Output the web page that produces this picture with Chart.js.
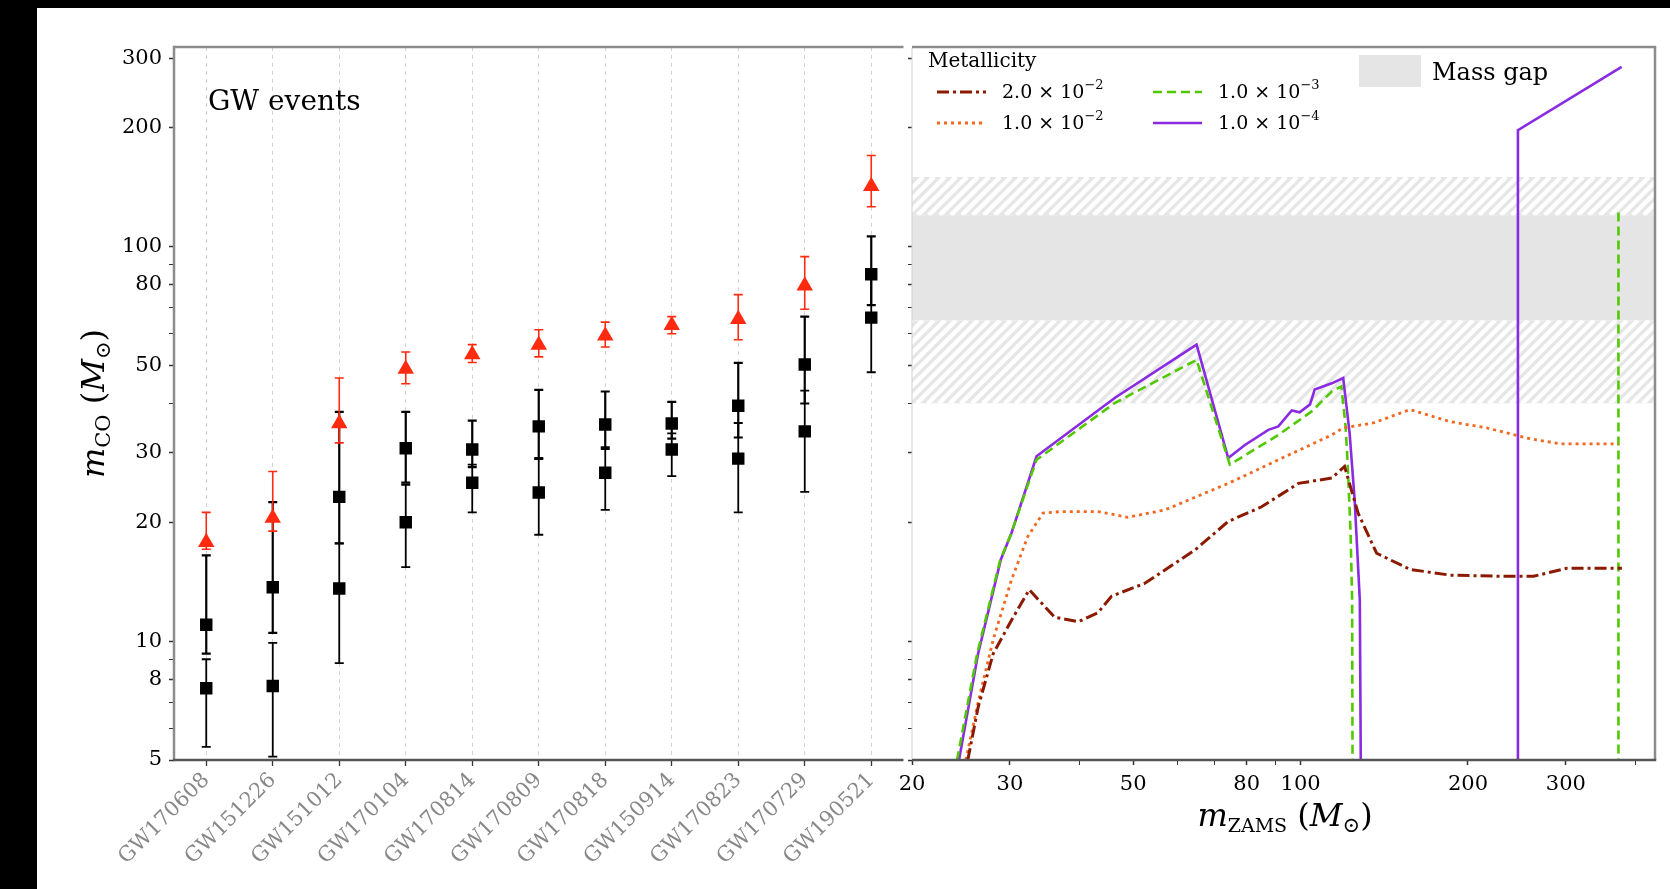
<!DOCTYPE html>
<html>
<head>
<meta charset="utf-8">
<script src="https://cdn.jsdelivr.net/npm/chart.js@4.4.1/dist/chart.umd.min.js"></script>
<style>
html, body { margin: 0; padding: 0; background: #fff; }
#fig { position: relative; width: 1670px; height: 889px; background: #fff; overflow: hidden; }
#left { position: absolute; left: 0; top: 0; width: 913px; height: 889px; }
#right { position: absolute; left: 880px; top: 0; width: 790px; height: 889px; }
.bar { position: absolute; background: #000; }
</style>
</head>
<body>
<div id="fig">
  <canvas id="left" width="913" height="889"></canvas>
  <canvas id="right" width="790" height="889"></canvas>
  <div class="bar" style="left:0;top:0;width:37px;height:889px"></div>
  <div class="bar" style="left:0;top:0;width:1670px;height:8px"></div>
</div>
<script>
// ---- GW events (left panel) ----
const events = ['GW170608', 'GW151226', 'GW151012', 'GW170104', 'GW170814', 'GW170809',
                'GW170818', 'GW150914', 'GW170823', 'GW170729', 'GW190521']
const m1   = [11.0, 13.7, 23.2, 30.8, 30.6, 35.0, 35.4, 35.6, 39.5, 50.2, 85]
const m1Up = [5.5, 8.8, 14.9, 7.3, 5.6, 8.3, 7.5, 4.8, 11.2, 16.2, 21]
const m1Lo = [1.7, 3.2, 5.5, 5.6, 3.0, 5.9, 4.7, 3.0, 6.7, 10.2, 14]
const m2   = [7.6, 7.7, 13.6, 20.0, 25.2, 23.8, 26.7, 30.6, 29.0, 34.0, 66]
const m2Up = [1.4, 2.2, 4.1, 4.9, 2.8, 5.1, 4.3, 3.0, 6.7, 9.1, 17]
const m2Lo = [2.2, 2.6, 4.8, 4.6, 4.0, 5.2, 5.2, 4.4, 7.8, 10.1, 18]
const mf   = [17.8, 20.5, 35.6, 48.9, 53.2, 56.3, 59.4, 63.1, 65.4, 79.5, 142]
const mfUp = [3.4, 6.4, 10.8, 5.1, 3.2, 5.2, 4.9, 3.3, 10.1, 14.7, 28]
const mfLo = [0.7, 1.5, 3.8, 4.0, 2.4, 3.8, 3.8, 3.0, 7.4, 10.2, 16]

// ---- axes ----
const yTicks  = [5, 6, 7, 8, 9, 10, 20, 30, 40, 50, 60, 70, 80, 90, 100, 200, 300]
const yLabels = [5, 8, 10, 20, 30, 50, 80, 100, 200, 300]
const xTicks  = [20, 30, 40, 50, 60, 70, 80, 90, 100, 200, 300, 400]
const xLabels = [20, 30, 50, 80, 100, 200, 300]

// ---- mass gap (M_sun) ----
const gapSolid = [65, 120]
const gapHatch = [[40, 65], [120, 150]]

// ---- m_CO vs m_ZAMS per metallicity ----
const zams_2e2 = [25.2, 26.3, 28.0, 30.2, 32.5, 36.1, 39.8, 43.2, 45.7, 52.4, 64.5, 74.1, 85.1, 99.1, 113.8, 120.0, 126.9, 137.0, 157.3, 185.6, 228.4, 262.4, 301.3, 378.4]
const mco_2e2  = [5.0, 6.8, 9.3, 11.3, 13.5, 11.5, 11.2, 11.8, 13.0, 14.0, 17.0, 20.1, 21.9, 25.1, 25.9, 27.7, 21.1, 16.7, 15.2, 14.7, 14.6, 14.6, 15.3, 15.3]
const zams_1e2 = [25.0, 26.3, 28.0, 30.2, 32.3, 34.4, 37.1, 43.2, 48.9, 57.0, 74.1, 91.2, 113.8, 119.3, 135.0, 157.3, 185.6, 216.2, 255.2, 293.0, 373.0]
const mco_1e2  = [5.0, 7.0, 10.1, 14.3, 18.4, 21.1, 21.3, 21.3, 20.6, 21.5, 25.1, 28.8, 33.3, 34.7, 35.7, 38.6, 36.0, 34.7, 32.7, 31.6, 31.6]
const zams_1e3 = [24.1, 26.2, 28.8, 30.1, 33.5, 46.3, 65.0, 74.6, 91.2, 104.7, 113.8, 118.4, 120.5, 121.6, 123.0, 123.8, 124.0, 124.1, 373.0, 373.0]
const mco_1e3  = [5.0, 9.3, 16.0, 18.6, 28.8, 40.1, 51.6, 28.0, 33.3, 38.2, 42.9, 44.2, 35.0, 27.7, 18.8, 12.7, 5.0, 4.0, 4.0, 125.0]
const zams_1e4 = [24.3, 26.3, 28.9, 30.2, 33.5, 46.3, 65.0, 74.1, 79.4, 87.5, 91.2, 96.4, 99.6, 104.0, 106.0, 113.8, 119.3, 122.5, 125.1, 127.8, 128.3, 128.5, 246.0, 246.0, 378.0]
const mco_1e4  = [5.0, 9.3, 16.1, 18.8, 29.4, 41.3, 56.4, 29.1, 31.4, 34.3, 35.0, 38.4, 38.0, 39.8, 43.4, 45.0, 46.4, 33.7, 22.8, 12.7, 5.0, 4.0, 4.0, 197.0, 285.0]

const zMant = ['2.0', '1.0', '1.0', '1.0']
const zExp  = ['\u22122', '\u22122', '\u22123', '\u22124']

Chart.defaults.font.family = '"DejaVu Serif", serif'
Chart.defaults.color = '#000'

const SERIF = '"DejaVu Serif", serif'

function pairs(xs, ys) {
    return xs.map((x, i) => ({x: x, y: ys[i]}))
}

function drawRich(ctx, parts, x, y, align) {
    let w = 0
    parts.forEach(p => { ctx.font = p.font; p.w = ctx.measureText(p.t).width; w += p.w })
    let cx = align === 'center' ? x - w / 2 : x
    parts.forEach(p => {
        ctx.font = p.font
        ctx.fillText(p.t, cx, y + (p.dy || 0))
        cx += p.w
    })
}

function line(ctx, x1, y1, x2, y2, color, width) {
    ctx.save()
    ctx.strokeStyle = color
    ctx.lineWidth = width
    ctx.beginPath()
    ctx.moveTo(x1, y1)
    ctx.lineTo(x2, y2)
    ctx.stroke()
    ctx.restore()
}

const errorBars = {
    id: 'errorBars',
    beforeDatasetsDraw(chart) {
        const {ctx} = chart
        const y = chart.scales.y
        chart.data.datasets.forEach((ds, i) => {
            const meta = chart.getDatasetMeta(i)
            ctx.save()
            ctx.strokeStyle = ds.errColor
            ctx.lineWidth = ds.errWidth
            meta.data.forEach((pt, j) => {
                const v = ds.data[j].y
                const top = y.getPixelForValue(v + ds.errUp[j])
                const bot = y.getPixelForValue(v - ds.errLo[j])
                const cap = 4.5
                ctx.beginPath()
                ctx.moveTo(pt.x, top); ctx.lineTo(pt.x, bot)
                ctx.moveTo(pt.x - cap, top); ctx.lineTo(pt.x + cap, top)
                ctx.moveTo(pt.x - cap, bot); ctx.lineTo(pt.x + cap, bot)
                ctx.stroke()
            })
            ctx.restore()
        })
    }
}

const leftDecor = {
    id: 'leftDecor',
    afterDraw(chart) {
        const {ctx, chartArea: a} = chart
        line(ctx, a.left, a.top, a.right, a.top, '#8c8c8c', 2.5)
        line(ctx, a.left, a.top - 1.2, a.left, a.bottom, '#8c8c8c', 2.5)
        line(ctx, a.left - 1, a.bottom, a.right, a.bottom, '#555', 2.5)
        ctx.save()
        ctx.fillStyle = '#000'
        ctx.textBaseline = 'alphabetic'
        ctx.font = '28px ' + SERIF
        ctx.fillText('GW events', a.left + 34, a.top + 63)
        ctx.translate(104, (a.top + a.bottom) / 2 + 0)
        ctx.rotate(-Math.PI / 2)
        drawRich(ctx, [
            {t: 'm', font: 'italic 32px ' + SERIF},
            {t: 'CO', font: '21px ' + SERIF, dy: 6},
            {t: ' (', font: '32px ' + SERIF},
            {t: 'M', font: 'italic 32px ' + SERIF},
            {t: '\u2299', font: '21px ' + SERIF, dy: 6},
            {t: ')', font: '32px ' + SERIF}
        ], 0, 0, 'center')
        ctx.restore()
    }
}

const rightDecor = {
    id: 'rightDecor',
    beforeDatasetsDraw(chart) {
        const {ctx, chartArea: a} = chart
        const y = chart.scales.y
        ctx.save()
        ctx.beginPath()
        ctx.rect(a.left, a.top, a.right - a.left, a.bottom - a.top)
        ctx.clip()
        const s1 = y.getPixelForValue(gapSolid[1]), s0 = y.getPixelForValue(gapSolid[0])
        ctx.fillStyle = '#e5e5e5'
        ctx.fillRect(a.left, s1, a.right - a.left, s0 - s1)
        gapHatch.forEach(([lo, hi]) => {
            const t = y.getPixelForValue(hi), b = y.getPixelForValue(lo)
            const h = b - t
            ctx.save()
            ctx.beginPath()
            ctx.rect(a.left, t, a.right - a.left, h)
            ctx.clip()
            ctx.fillStyle = '#e6e6e6'
            ctx.fillRect(a.left, t, a.right - a.left, h)
            ctx.strokeStyle = '#fff'
            ctx.lineWidth = 4.5
            ctx.beginPath()
            for (let x = a.left - h; x < a.right + h; x += 11) {
                ctx.moveTo(x, b)
                ctx.lineTo(x + h, t)
            }
            ctx.stroke()
            ctx.restore()
        })
        ctx.restore()
    },
    afterDraw(chart) {
        const {ctx, chartArea: a} = chart
        line(ctx, a.left, a.top + 1, a.left, a.bottom, '#cfcfcf', 1)
        line(ctx, a.left, a.top, a.right + 1.2, a.top, '#8c8c8c', 2.5)
        line(ctx, a.right, a.top, a.right, a.bottom, '#8c8c8c', 2.5)
        line(ctx, a.left, a.bottom, a.right + 1.2, a.bottom, '#555', 2.5)

        ctx.save()
        ctx.fillStyle = '#000'
        ctx.textBaseline = 'alphabetic'
        // metallicity legend
        ctx.font = '20px ' + SERIF
        ctx.fillText('Metallicity', a.left + 16, a.top + 20)
        const rows = [a.top + 45, a.top + 76]
        const cols = [a.left + 25, a.left + 241]
        chart.data.datasets.forEach((ds, i) => {
            const col = Math.floor(i / 2), row = i % 2
            const lx = cols[col], ly = rows[row]
            ctx.save()
            ctx.strokeStyle = ds.borderColor
            ctx.lineWidth = ds.borderWidth
            ctx.setLineDash(ds.borderDash || [])
            ctx.beginPath()
            ctx.moveTo(lx, ly)
            ctx.lineTo(lx + 49, ly)
            ctx.stroke()
            ctx.restore()
            drawRich(ctx, [
                {t: zMant[i] + ' \u00d7 10', font: '19px ' + SERIF},
                {t: zExp[i], font: '13px ' + SERIF, dy: -9}
            ], lx + 65, ly + 6, 'left')
        })
        // mass gap legend
        ctx.fillStyle = '#e5e5e5'
        ctx.fillRect(a.left + 447, a.top + 8, 62, 32)
        ctx.fillStyle = '#000'
        ctx.font = '24px ' + SERIF
        ctx.fillText('Mass gap', a.left + 520, a.top + 33)
        // x title
        drawRich(ctx, [
            {t: 'm', font: 'italic 32px ' + SERIF},
            {t: 'ZAMS', font: '19px ' + SERIF, dy: 6},
            {t: ' (', font: '32px ' + SERIF},
            {t: 'M', font: 'italic 32px ' + SERIF},
            {t: '\u2299', font: '21px ' + SERIF, dy: 6},
            {t: ')', font: '32px ' + SERIF}
        ], 1285 - 880, 826, 'center')
        ctx.restore()
    }
}

function logY(width, showLabels) {
    return {
        type: 'logarithmic',
        min: 5,
        max: 320,
        afterBuildTicks: s => { s.ticks = yTicks.map(v => ({value: v})) },
        afterFit: s => { s.width = width },
        ticks: {
            display: showLabels,
            autoSkip: false,
            padding: 7,
            font: {size: 21},
            color: '#000',
            callback: v => yLabels.includes(v) ? String(v) : ''
        },
        grid: {
            drawOnChartArea: false,
            tickLength: showLabels ? 5 : 4,
            tickColor: '#333',
            tickWidth: c => yLabels.includes(c.tick && c.tick.value) ? 1.5 : 1
        },
        border: {display: false}
    }
}

new Chart(document.getElementById('left'), {
    type: 'scatter',
    plugins: [errorBars, leftDecor],
    data: {
        datasets: [
            {
                label: 'm1',
                data: pairs(events.map((e, i) => i), m1),
                pointStyle: 'rect', pointRadius: 8.8,
                backgroundColor: '#000', borderColor: '#000', borderWidth: 0,
                errUp: m1Up, errLo: m1Lo, errColor: '#000', errWidth: 2.2
            },
            {
                label: 'm2',
                data: pairs(events.map((e, i) => i), m2),
                pointStyle: 'rect', pointRadius: 8.8,
                backgroundColor: '#000', borderColor: '#000', borderWidth: 0,
                errUp: m2Up, errLo: m2Lo, errColor: '#000', errWidth: 1.8
            },
            {
                label: 'mf',
                data: pairs(events.map((e, i) => i), mf),
                pointStyle: 'triangle', pointRadius: 9.5,
                backgroundColor: '#ff2a10', borderColor: '#ff2a10', borderWidth: 0,
                errUp: mfUp, errLo: mfLo, errColor: '#ff2a10', errWidth: 1.6
            }
        ]
    },
    options: {
        responsive: false,
        animation: false,
        devicePixelRatio: 1,
        layout: {padding: {top: 47, right: 1, bottom: 0, left: 0}},
        plugins: {legend: {display: false}, tooltip: {enabled: false}},
        scales: {
            x: {
                type: 'linear',
                min: -0.485,
                max: 10.485,
                afterBuildTicks: s => { s.ticks = events.map((e, i) => ({value: i})) },
                afterFit: s => { s.height = 129 },
                ticks: {
                    autoSkip: false, minRotation: 45, maxRotation: 45, padding: 2,
                    font: {size: 21}, color: '#888',
                    callback: v => events[v]
                },
                grid: {color: '#d2d2d2', lineWidth: 1, tickLength: 6, tickColor: '#333', tickWidth: 1.3},
                border: {display: false, dash: [4, 4]}
            },
            y: logY(174, true)
        }
    }
})

new Chart(document.getElementById('right'), {
    type: 'line',
    plugins: [rightDecor],
    data: {
        datasets: [
            {label: '2e-2', data: pairs(zams_2e2, mco_2e2), borderColor: '#8b1a00', borderWidth: 3, borderDash: [12, 4, 3, 4]},
            {label: '1e-2', data: pairs(zams_1e2, mco_1e2), borderColor: '#f4671f', borderWidth: 2.8, borderDash: [3, 4]},
            {label: '1e-3', data: pairs(zams_1e3, mco_1e3), borderColor: '#52c800', borderWidth: 2.6, borderDash: [9, 5]},
            {label: '1e-4', data: pairs(zams_1e4, mco_1e4), borderColor: '#8a2be2', borderWidth: 2.6}
        ]
    },
    options: {
        responsive: false,
        animation: false,
        devicePixelRatio: 1,
        layout: {padding: {top: 47, right: 15, bottom: 0, left: 0}},
        elements: {point: {radius: 0}, line: {tension: 0, fill: false}},
        plugins: {legend: {display: false}, tooltip: {enabled: false}},
        scales: {
            x: {
                type: 'logarithmic',
                min: 20,
                max: 434,
                afterBuildTicks: s => { s.ticks = xTicks.map(v => ({value: v})) },
                afterFit: s => { s.height = 129 },
                ticks: {
                    autoSkip: false, minRotation: 0, maxRotation: 0, padding: 7,
                    font: {size: 21}, color: '#000',
                    callback: v => xLabels.includes(v) ? String(v) : ''
                },
                grid: {
                    drawOnChartArea: false, tickLength: 5, tickColor: '#333',
                    tickWidth: c => xLabels.includes(c.tick && c.tick.value) ? 1.5 : 1
                },
                border: {display: false}
            },
            y: logY(32, false)
        }
    }
})
</script>
</body>
</html>
